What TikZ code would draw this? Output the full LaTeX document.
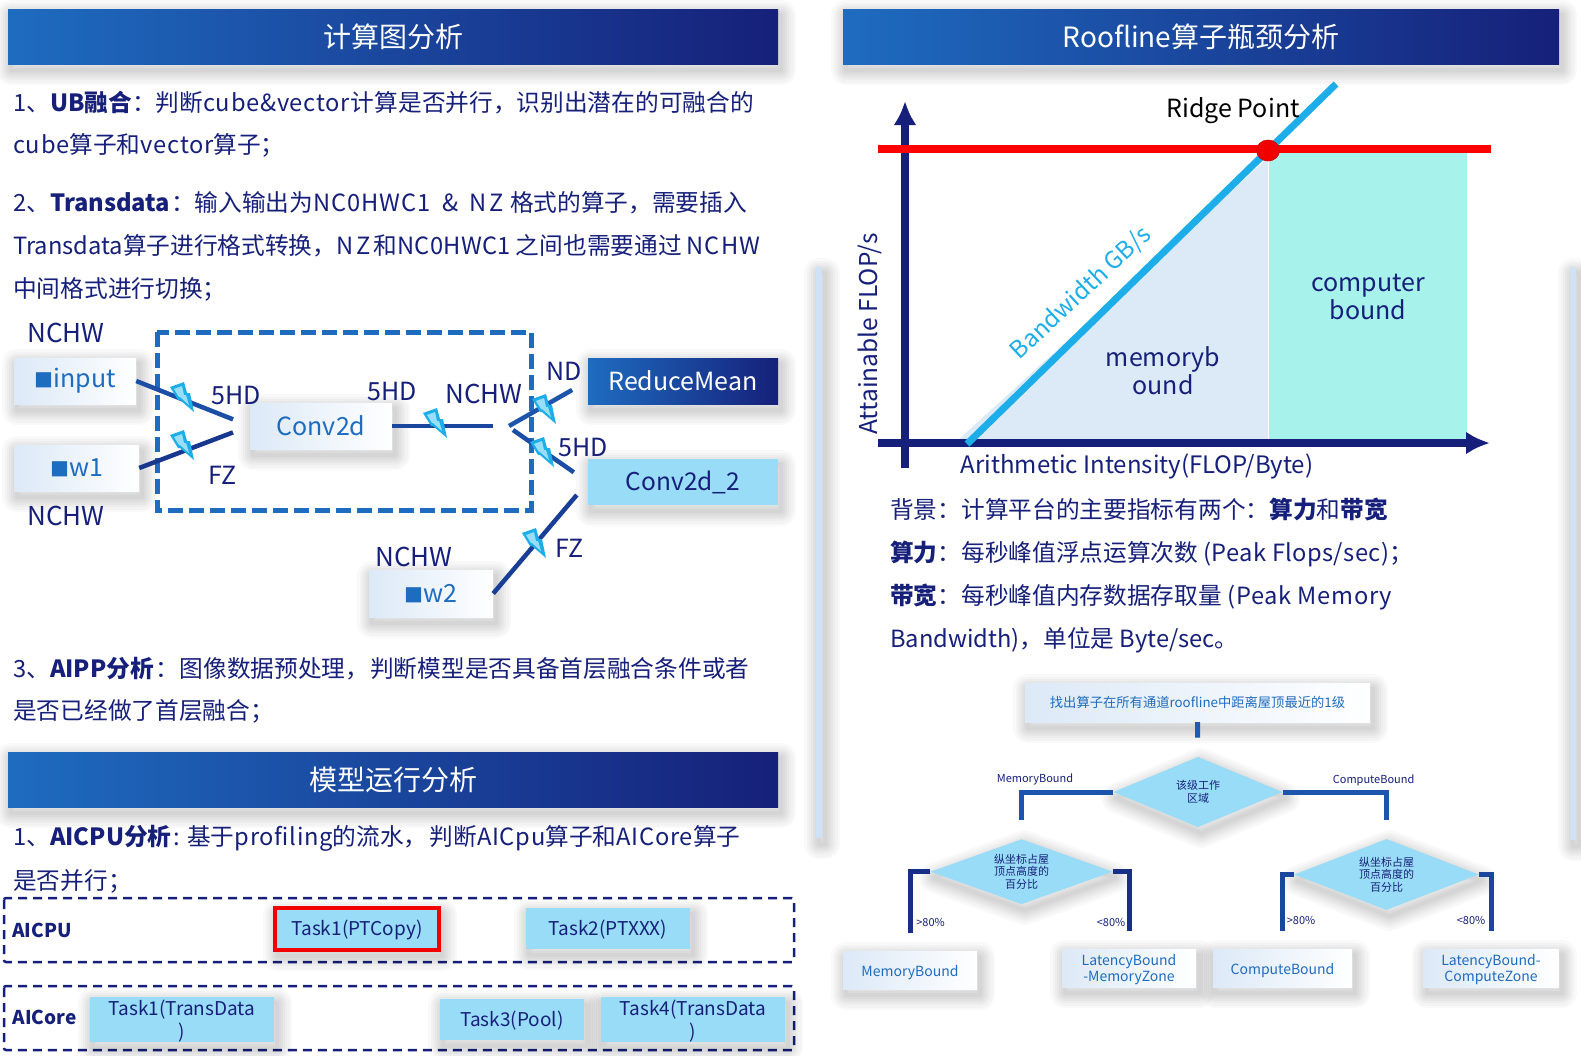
\documentclass[tikz,border=0pt]{standalone}
\usepackage{fontspec}
\setmainfont{Noto Sans CJK SC}
\usetikzlibrary{shapes.geometric,arrows.meta,shadows}
\definecolor{navy}{HTML}{16207A}
\definecolor{midblue}{HTML}{1E6CC0}
\definecolor{skyb}{HTML}{99DCF7}
\definecolor{pale}{HTML}{DCE9F7}
\definecolor{barblue}{HTML}{CFE2F6}
\definecolor{cyanl}{HTML}{1DAEEA}
\definecolor{teal}{HTML}{A8F2EC}
\definecolor{conn}{HTML}{1A45A0}
\newcommand{\fs}[1]{\fontsize{#1}{#1}\selectfont}
\newcommand{\lsa}[1]{{\addfontfeature{LetterSpace=4}#1}}
\newcommand{\lsb}[1]{{\addfontfeature{LetterSpace=3}#1}}
\newcommand{\lsc}[1]{{\addfontfeature{LetterSpace=12}#1}}
\newcommand{\lsd}[1]{{\addfontfeature{LetterSpace=1.5}#1}}
\newcommand{\up}[1]{\rule{0pt}{#1pt}}
\tikzset{
  shadowlayer/.style={general shadow={draw=black,fill=none,opacity=.025,line width=#1,line join=round,shadow xshift=3pt,shadow yshift=-6pt}},
  softshadow/.style={shadowlayer=30pt,shadowlayer=25pt,shadowlayer=20pt,shadowlayer=16pt,shadowlayer=12pt,shadowlayer=8pt,shadowlayer=4pt},
  hdr/.style={rectangle,inner sep=0,left color=midblue,right color=navy,text=white,font=\fs{28},softshadow},
  lightbox/.style={rectangle,inner sep=0,left color=pale,right color=white,align=center,softshadow},
  skybox/.style={rectangle,inner sep=0,fill=skyb,text=navy,align=center,softshadow},
  bodyline/.style={anchor=base west,inner sep=0,text=navy,font=\fs{23.7}},
  lab/.style={inner sep=0,text=navy,font=\fs{26}},
  blu/.style={text=midblue},
  link/.style={draw=conn,line width=4.5pt},
  treelink/.style={draw=conn,line width=5pt},
  dia/.style={diamond,inner sep=0,fill=skyb,softshadow},
  diatext/.style={inner sep=0,text=navy,align=center,font=\fontsize{11}{12.5}\selectfont},
  small/.style={inner sep=0,text=navy,font=\fs{11}},
  tiny/.style={inner sep=0,text=navy,font=\fs{11}},
  lane/.style={draw=navy,line width=2.5pt,dash pattern=on 9pt off 6pt,rounded corners=2pt},
  tbox/.style={skybox,font=\fontsize{19}{23}\selectfont},
  fzbox/.style={lightbox,font=\fontsize{14}{16.5}\selectfont,text=midblue},
  boltpic/.pic={
    \fill[cyanl] (-11,-10)--(3,-15)--(6,-4)--(9,-4)--(13,15)--(-1,3)--(-3,3)--cycle;
    \fill[cyan!40] (-7,-8)--(1,-11)--(3,-2)--(5,-2)--(8,8)--(-1,0)--(-2,0)--cycle;
  },
  sidebar/.style={fill=barblue,draw=none,softshadow},
}
\begin{document}
\begin{tikzpicture}[x=1pt,y=-1pt]
\useasboundingbox (0,0) rectangle (1581,1055);
\fill[white] (0,0) rectangle (1581,1055);

% side bars
\fill[sidebar] (816,267) rectangle (822,838);
\fill[sidebar] (1570,267) rectangle (1576,840);

% headers
\node[hdr,minimum width=770,minimum height=55] (h1) at (393,36.5) {计算图分析};
\node[hdr,minimum width=716,minimum height=55] (h2) at (1201,36.5) {Roofline算子瓶颈分析};
\node[hdr,minimum width=770,minimum height=55] (h3) at (393,779.5) {模型运行分析};

% left text
\node[bodyline] (t1) at (13,111) {1、\textbf{UB融合}：判断\lsb{cube\&vector}\kern1pt 计算是否并行，识别出潜在的可融合的};
\node[bodyline] (t2) at (13,153) {\lsb{cube}算子和\lsb{vector}算子；};
\node[bodyline] (t3) at (13,211) {2、\textbf{Transdata}\kern1pt：输入输出为\lsa{NC0HWC1}\hspace{12pt}\&\hspace{11pt}\lsc{NZ}\hspace{6pt}格式的算子，需要插入};
\node[bodyline] (t4) at (13,254) {Transdata算子进行格式转换，\lsc{NZ}\kern3pt 和\lsd{NC0HWC1}\kern5pt 之间也需要通过\kern5pt\lsa{NCHW}};
\node[bodyline] (t5) at (13,297) {中间格式进行切换；};
\node[bodyline] (t6) at (13,677) {3、\textbf{AIPP分析}\kern2pt：图像数据预处理，\kern1pt 判断模型是否具备首层融合条件或者};
\node[bodyline] (t7) at (13,719) {是否已经做了首层融合；};
\node[bodyline] (t8) at (13,845) {1、\textbf{AICPU分析}\kern2pt: 基于\lsb{profiling}的流水，\kern2pt 判断\lsb{AICpu}算子和\lsb{AICore}算子};
\node[bodyline] (t9) at (13,889) {是否并行；};

% format graph
\draw[draw=midblue,line width=5pt,dash pattern=on 15pt off 6pt] (157,332) rectangle (531,510);
\node[lightbox,minimum width=122,minimum height=46,font=\fs{25},blu] (input) at (75,381) {{\fs{19}■}input};
\node[lightbox,minimum width=125,minimum height=46,font=\fs{25},blu] (w1) at (76.5,468) {{\fs{19}■}w1};
\node[lightbox,minimum width=142,minimum height=46,font=\fs{25},blu] (conv) at (321,426) {Conv2d};
\node[hdr,minimum width=190,minimum height=46,font=\fs{25}] (rm) at (683,381) {ReduceMean};
\node[skybox,minimum width=190,minimum height=46,font=\fs{24.5}] (conv2) at (683,482) {Conv2d\_2};
\node[lightbox,minimum width=124,minimum height=47,font=\fs{25},blu] (w2) at (431,593.5) {{\fs{19}■}w2};
\coordinate (jl) at (493,426);
\coordinate (ju) at (509,426);
\coordinate (jd) at (513,430);
\draw[link,draw=midblue!60!navy,shorten >=18pt] (input.east) -- (conv.west);
\draw[link,draw=midblue!30!navy,shorten >=18pt] (w1.east) -- (conv.west);
\draw[link,draw=midblue!50!navy] (conv.east) -- (jl);
\draw[link,draw=midblue!70!navy,shorten >=18pt] (ju) -- (rm.west);
\draw[link,draw=midblue!60!navy,shorten >=17pt] (jd) -- (conv2.west);
\draw[link,draw=midblue!40!navy,shorten >=17pt] (w2.east) -- (conv2.west);
\pic at (181,397) {boltpic};
\pic at (181,445) {boltpic};
\pic at (434,423) {boltpic};
\pic at (543,409) {boltpic};
\pic at (541,452) {boltpic};
\pic at (533,543) {boltpic};
\node[lab] (l1) at (66,333) {NCHW};
\node[lab] (l2) at (66,516) {NCHW};
\node[lab,font=\fs{25}] (l3) at (236,395) {5HD};
\node[lab,font=\fs{25}] (l4) at (223,475) {FZ};
\node[lab,font=\fs{25}] (l5) at (392,391) {5HD};
\node[lab] (l6) at (484,394) {NCHW};
\node[lab,font=\fs{25}] (l7) at (564,371) {ND};
\node[lab,font=\fs{25}] (l8) at (583,447) {5HD};
\node[lab,font=\fs{25}] (l9) at (570,548) {FZ};
\node[lab] (l10) at (414,557) {NCHW};

% lanes
\draw[lane] (4,898) rectangle (794,962);
\draw[lane] (4,986) rectangle (794,1050);
\node[inner sep=0,text=navy,font=\bfseries\fs{19}] (aicpu) at (42,930) {AICPU};
\node[inner sep=0,text=navy,font=\bfseries\fs{19}] (aicore) at (44.5,1017) {AICore};
\node[tbox,minimum width=164,minimum height=42,draw=red!95!black,line width=4pt] (tk1) at (357,929) {\up{18}Task1(PTCopy)};
\node[tbox,minimum width=164,minimum height=41] (tk2) at (608,928.5) {\up{18}Task2(PTXXX)};
\node[tbox,minimum width=184,minimum height=41] (tk3) at (182,1019.5) {\up{18}Task1(TransData\\)};
\node[tbox,minimum width=144,minimum height=41] (tk4) at (512,1019.5) {\up{18}Task3(Pool)};
\node[tbox,minimum width=184,minimum height=41] (tk5) at (693,1019.5) {\up{18}Task4(TransData\\)};

% roofline chart
\fill[pale] (958,440) -- (1268,158) -- (1268,440) -- cycle;
\fill[teal] (1268.5,153) rectangle (1467,440);
\coordinate (yb) at (905,468);
\coordinate (yt) at (905,101);
\coordinate (xl) at (878,443);
\coordinate (xr) at (1490,443);
\coordinate (rl) at (878,149);
\coordinate (rr) at (1491,149);
\coordinate (bl) at (967,444);
\coordinate (bt) at (1336,84);
\draw[navy,line width=8pt,-{Latex[length=24pt,width=23pt]}] (yb) -- (yt);
\draw[navy,line width=8pt,-{Latex[length=24pt,width=23pt]}] (xl) -- (xr);
\draw[red,line width=8pt] (rl) -- (rr);
\draw[cyanl,line width=7pt] (bl) -- (bt);
\node[ellipse,fill=red!95!black,draw=red!80!black,line width=.6pt,minimum width=23,minimum height=21,inner sep=0] (rp) at (1268,150.5) {};
\node[inner sep=0,text=black,font=\fs{25}] (rptxt) at (1233,111) {Ridge Point};
\node[inner sep=0,text=navy,align=center,font=\fontsize{25}{27.5}\selectfont] (cb) at (1368,297) {computer\\bound};
\node[inner sep=0,text=navy,align=center,font=\fontsize{25}{27.5}\selectfont] (mb) at (1163,370.5) {memoryb\\ound};
\node[inner sep=0,text=cyanl,font=\fs{24},rotate=43] (bw) at (1081,293) {Bandwidth GB/s};
\node[inner sep=0,text=navy,font=\fs{24.5},rotate=90] (ya) at (870,334) {Attainable FLOP/s};
\node[inner sep=0,text=navy,font=\fs{24}] (xa) at (1137,466) {Arithmetic Intensity(FLOP/Byte)};

% right text
\node[bodyline] (r1) at (890,518) {背景：计算平台的主要指标有两个：\textbf{算力}和\textbf{带宽}};
\node[bodyline] (r2) at (890,561) {\textbf{算力}：每秒峰值浮点运算次数 \lsd{(Peak Flops/sec)}；};
\node[bodyline] (r3) at (890,604) {\textbf{带宽}：每秒峰值内存数据存取量 \lsb{(Peak Memory}};
\node[bodyline] (r4) at (890,647) {Bandwidth)，单位是 Byte/sec。};

% decision tree
\node[lightbox,minimum width=345,minimum height=39,font=\fs{13.3},text=midblue] (top) at (1197.5,702.5) {找出算子在所有通道roofline中距离屋顶最近的1级};
\node[dia,shape aspect=2.4,minimum width=169,minimum height=70.3] (d1) at (1198,792) {};
\node[diatext] (d1t) at (d1.center) {该级工作\\区域};
\node[dia,shape aspect=2.8,minimum width=182,minimum height=65] (d2) at (1021.6,871.7) {};
\node[diatext] (d2t) at (d2.center) {纵坐标占屋\\顶点高度的\\百分比};
\node[dia,shape aspect=2.6,minimum width=184.4,minimum height=71] (d3) at (1386.5,874.5) {};
\node[diatext] (d3t) at (d3.center) {纵坐标占屋\\顶点高度的\\百分比};
\node[fzbox,minimum width=134,minimum height=38] (n1) at (910,970) {\up{16}MemoryBound};
\node[fzbox,minimum width=134,minimum height=38] (n2) at (1129,968) {\up{14}LatencyBound\\-MemoryZone};
\node[fzbox,minimum width=139,minimum height=38] (n3) at (1282.5,968) {\up{16}ComputeBound};
\node[fzbox,minimum width=135,minimum height=38] (n4) at (1491,968) {\up{14}LatencyBound-\\ComputeZone};
\draw[treelink,draw=midblue!80!navy,shorten >=19pt] (top.south) -- (d1.north);
\draw[treelink,draw=midblue!70!navy,shorten >=19pt] (d1.west) -| (d2.north);
\draw[treelink,draw=midblue!70!navy,shorten >=19pt] (d1.east) -| (d3.north);
\draw[treelink,draw=midblue!20!navy,shorten >=18pt] (d2.west) -| (n1.north);
\draw[treelink,draw=midblue!20!navy,shorten >=18pt] (d2.east) -| (n2.north);
\draw[treelink,draw=midblue!50!navy,shorten >=18pt] (d3.west) -| (n3.north);
\draw[treelink,draw=midblue!50!navy,shorten >=18pt] (d3.east) -| (n4.north);
\node[small] (e1) at (1035,779) {MemoryBound};
\node[small] (e2) at (1373.6,780) {ComputeBound};
\node[tiny] (e3) at (930.6,922) {>80\%};
\node[tiny] (e4) at (1111,922) {<80\%};
\node[tiny] (e5) at (1301,920) {>80\%};
\node[tiny] (e6) at (1471,920) {<80\%};
\end{tikzpicture}
\end{document}
